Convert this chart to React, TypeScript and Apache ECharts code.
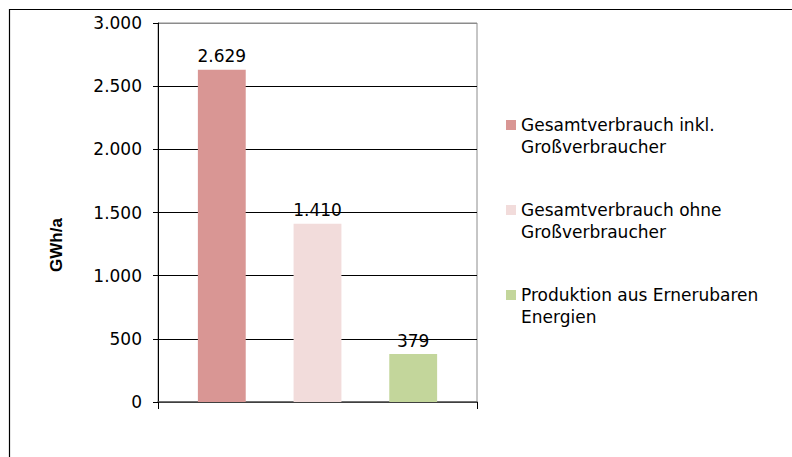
import React, { useEffect, useRef } from "react";
import * as echarts from "echarts";

const categories = [""];
const seriesNames = [
  "Gesamtverbrauch inkl.\nGroßverbraucher",
  "Gesamtverbrauch ohne\nGroßverbraucher",
  "Produktion aus Ernerubaren\nEnergien",
];
const seriesValues = [[2629], [1410], [379]];
const seriesColors = ["#D99694", "#F2DCDB", "#C3D69B"];
const yTicks = [0, 500, 1000, 1500, 2000, 2500, 3000];
const yAxisTitle = "GWh/a";

const fmt = (v: number) =>
  String(Math.round(v)).replace(/\B(?=(\d{3})+(?!\d))/g, ".");

const FONT = "'DejaVu Sans', sans-serif";
const TITLE_FONT = "'Liberation Sans', Arial, sans-serif";

export default function App() {
  const ref = useRef<HTMLDivElement>(null);
  useEffect(() => {
    if (!ref.current) return;
    const chart = echarts.init(ref.current, undefined, { renderer: "svg" });
    chart.setOption({
      animation: false,
      backgroundColor: "#fff",
      textStyle: { fontFamily: FONT },
      grid: {
        left: 158,
        top: 23,
        width: 319,
        height: 379,
        show: true,
        borderColor: "#8c8c8c",
        borderWidth: 1,
        backgroundColor: "transparent",
      },
      legend: {
        orient: "vertical",
        left: 506,
        top: 92,
        padding: 0,
        itemGap: 19,
        itemWidth: 10,
        itemHeight: 10,
        icon: "rect",
        selectedMode: false,
        formatter: (name: string) => "\n" + name,
        textStyle: {
          fontFamily: FONT,
          fontSize: 17,
          color: "#000",
          lineHeight: 22,
        },
        data: seriesNames,
      },
      xAxis: {
        type: "category",
        data: categories,
        axisLine: { show: true, lineStyle: { color: "#555", width: 1.5 } },
        axisTick: { show: true, length: 7, lineStyle: { color: "#000" } },
        axisLabel: { show: false },
        splitLine: { show: false },
      },
      yAxis: {
        type: "value",
        min: yTicks[0],
        max: yTicks[yTicks.length - 1],
        interval: 500,
        axisLine: { show: true, lineStyle: { color: "#000", width: 1 } },
        axisTick: { show: true, length: 5, lineStyle: { color: "#000" } },
        axisLabel: {
          margin: 16,
          fontSize: 17,
          color: "#000",
          fontFamily: FONT,
          formatter: (v: number) => fmt(v),
        },
        splitLine: {
          show: true,
          lineStyle: {
            color: ["#000", "#000", "#000", "#000", "#000", "#000", "#8c8c8c"],
            width: 1,
          },
        },
      },
      graphic: [
        {
          type: "rect",
          shape: { x: 9.5, y: 9.5, width: 900, height: 600 },
          style: { fill: "none", stroke: "#000", lineWidth: 1.2 },
          silent: true,
        },
        {
          type: "text",
          x: 56,
          y: 245,
          rotation: Math.PI / 2,
          style: {
            text: yAxisTitle,
            font: "bold 17px 'Liberation Sans', Arial, sans-serif",
            fill: "#000",
            align: "center",
            verticalAlign: "middle",
          },
        },
      ],
      series: seriesNames.map((name, i) => ({
        type: "bar",
        name,
        data: seriesValues[i],
        barGap: "100%",
        barCategoryGap: "25%",
        itemStyle: { color: seriesColors[i] },
        label: {
          show: true,
          position: "top",
          distance: 5,
          fontSize: 17,
          color: "#000",
          fontFamily: FONT,
          formatter: (p: any) => fmt(p.value),
        },
      })),
    });
    return () => chart.dispose();
  }, []);
  return (
    <div
      ref={ref}
      style={{ position: "absolute", left: 0, top: 0, width: 792, height: 457 }}
    />
  );
}
